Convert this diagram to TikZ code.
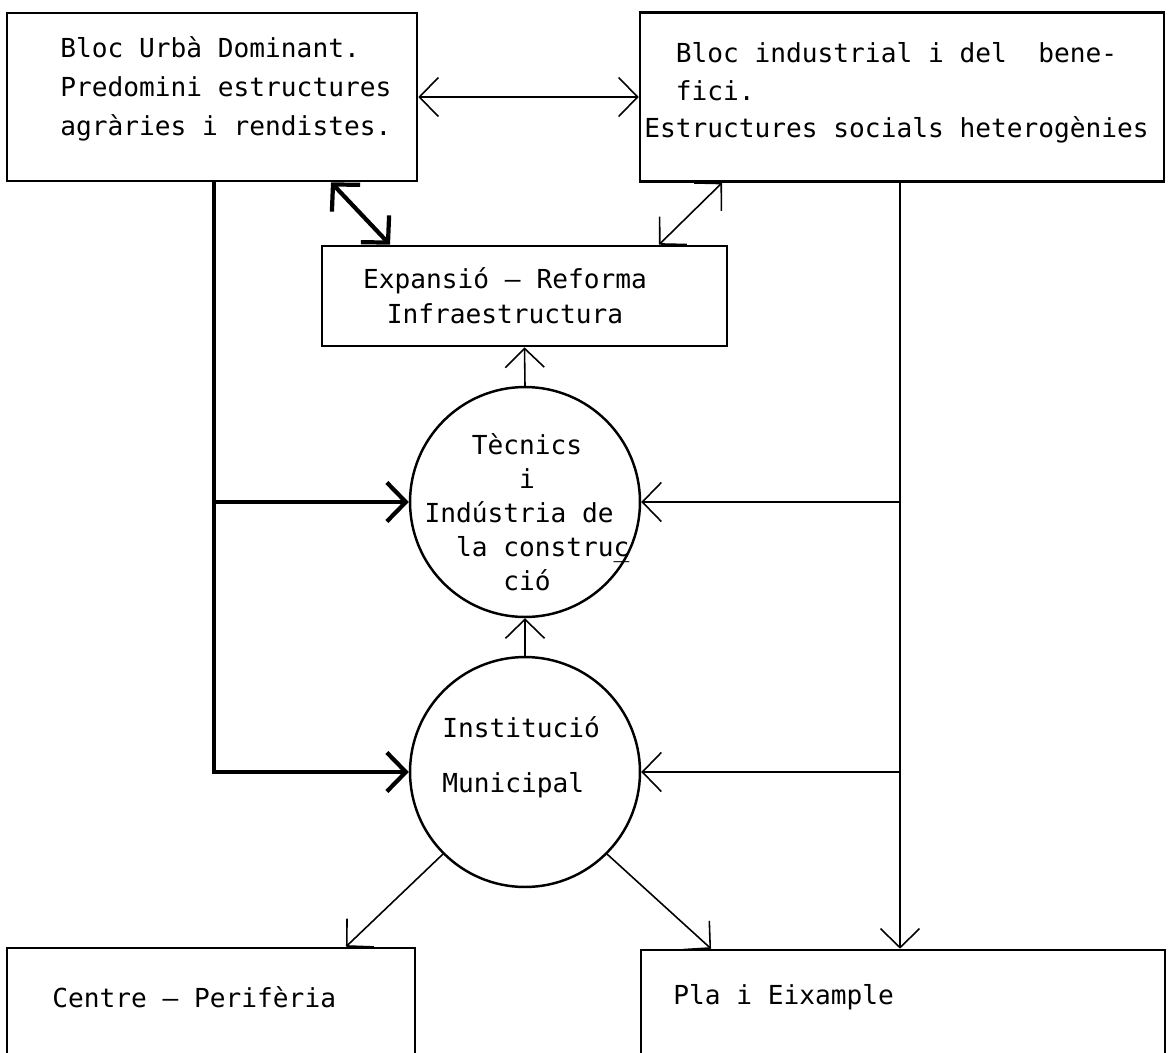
\documentclass[tikz,border=0pt]{standalone}
\usepackage{fontspec}
\newfontfamily\tw{DejaVu Sans Mono}
\usetikzlibrary{arrows.meta}

\tikzset{
  typed/.style={font=\tw\fontsize{14.9pt}{#1}\selectfont, inner sep=0pt},
  typed/.default=21pt,
  box/.style={draw, rectangle, line width=1.5pt, inner sep=0pt},
  round/.style={draw, circle, line width=1.4pt, inner sep=0pt, minimum size=4.6cm},
  heavy/.style={line width=2.4pt},
  light/.style={line width=0.9pt}
}

\begin{document}
\begin{tikzpicture}[x=0.02cm, y=-0.02cm, >={Straight Barb[length=0.38cm,width=0.78cm]}]
        \useasboundingbox (0,0) rectangle (1173,1052);
        \clip (0,0) rectangle (1173,1052);
        % boxes and circles
        \node[box, minimum width=8.2cm, minimum height=3.36cm] (blocurba) at (212,97) {};
        \node[box, minimum width=10.48cm, minimum height=3.38cm] (blocind) at (902,97) {};
        \node[box, minimum width=8.1cm, minimum height=2cm] (expansio) at (524.5,296) {};
        \node[round] (tecnics) at (525,502) {};
        \node[round] (institucio) at (525,772) {};
        \node[box, minimum width=8.16cm, minimum height=3.04cm] (centre) at (211,1024) {};
        \node[box, minimum width=10.48cm, minimum height=3cm] (pla) at (903,1025) {};
        % texts
        \node[typed=22.2pt, anchor=west, align=left] (blocurbatxt) at (60,89)
            {Bloc Urbà Dominant.\\Predomini estructures\\agràries i rendistes.};
        \node[typed=21.3pt, anchor=west, align=left] (blocindtxt) at (644,93)
            {\phantom{xx}Bloc industrial i del\ \ bene-\\\phantom{xx}fici.\\Estructures socials heterogènies};
        \node[typed=19.9pt, align=center] (expansiotxt) at (505,296)
            {Expansió – Reforma\\Infraestructura};
        \node[typed=19.4pt, align=center] (tecnicstxt) at (527,512)
            {Tècnics\\i\\Indústria de\phantom{x}\\\phantom{xx}la construc\llap{\_}\\ció};
        \node[typed=31.3pt, anchor=west, align=left] (instituciotxt) at (442,757)
            {Institució\\Municipal};
        \node[typed, anchor=west] (centretxt) at (52,997) {Centre – Perifèria};
        \node[typed, anchor=west] (platxt) at (673,997) {Pla i Eixample};
        % connectors
        \coordinate (lsplit) at (214,502);
        \coordinate (lbend) at (214,772);
        \coordinate (rsplit) at (900,502);
        \coordinate (rbend) at (900,772);
        \draw[light,<->] (blocurba.east) -- (blocind.west);
        \draw[heavy,<->] ([xshift=2.38cm]blocurba.south) -- ([xshift=-2.69cm]expansio.north);
        \draw[light,<->] ([xshift=-3.6cm]blocind.south) -- ([xshift=2.69cm]expansio.north);
        \draw[light,->] (tecnics.north) -- (expansio.south);
        \draw[light,->] (institucio.north) -- (tecnics.south);
        \draw[heavy,->] (blocurba.south -| lbend) |- (institucio.west);
        \draw[heavy,->] (lsplit) -- (tecnics.west);
        \draw[light,->] (blocind.south -| rbend) -- (pla.north -| rbend);
        \draw[light,->] (rsplit) -- (tecnics.east);
        \draw[light,->] (rbend) -- (institucio.east);
        \draw[light,->] (institucio.south west) -- ([xshift=2.7cm]centre.north);
        \draw[light,->] (institucio.south east) -- ([xshift=-3.84cm]pla.north);
    \end{tikzpicture}
\end{document}
